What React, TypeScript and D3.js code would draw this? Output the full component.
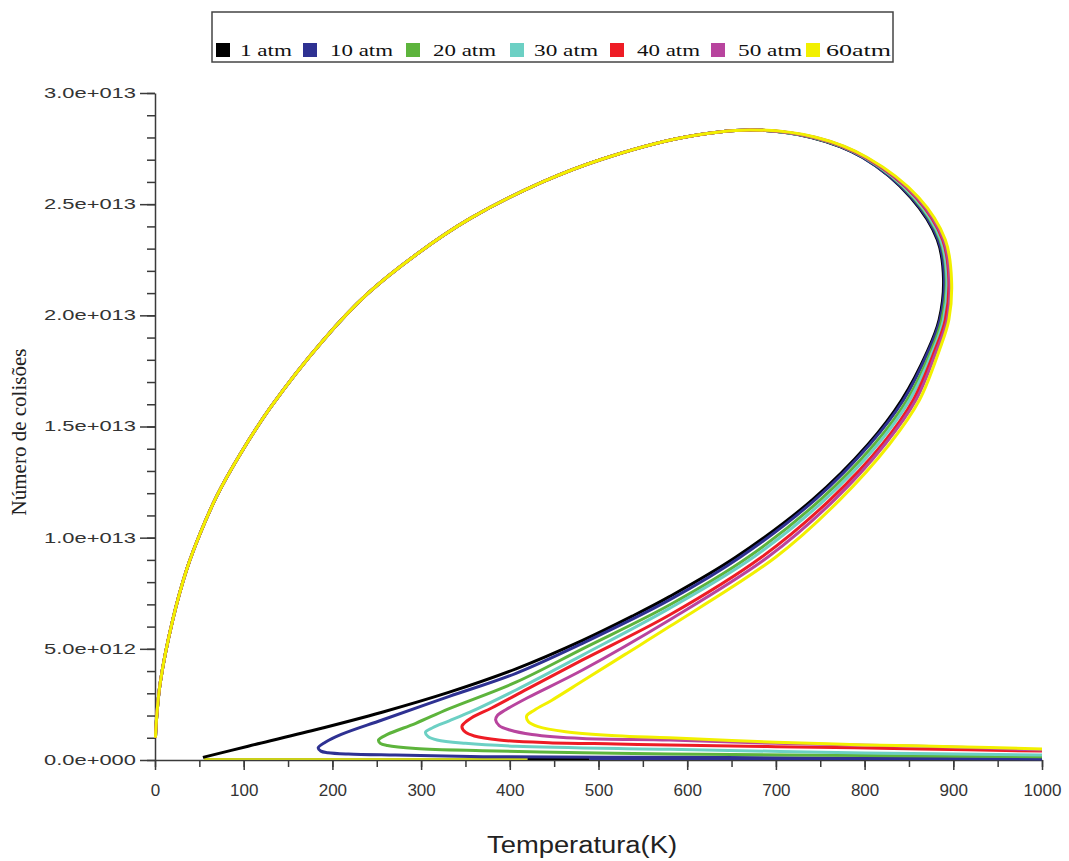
import React, { useEffect, useRef } from "react";
import * as d3 from "d3";

// N values are stored in units of 1e13 collisions
const UNIT = 1e13;

const pressures = ["1 atm", "10 atm", "20 atm", "30 atm", "40 atm", "50 atm", "60atm"];
const colors = ["#000000", "#2e3192", "#5db43c", "#6cd0c4", "#ee1c25", "#b8449e", "#f2f000"];

// rising branch, identical for all pressures (T in K)
const upperT = [0.5, 2, 6, 20, 36, 51, 70, 96, 130, 189, 239, 295, 355, 437, 502, 595, 671];
const upperN = [0.1, 0.2, 0.35, 0.63, 0.86, 1.02, 1.19, 1.375, 1.585, 1.885, 2.095, 2.275, 2.435, 2.6, 2.7, 2.8, 2.834];

// falling branch after the maximum, read at these N levels
const fallN = [2.8, 2.71, 2.53, 2.34, 2.16, 1.98, 1.84, 1.62, 1.42, 1.17, 0.913];
const fallT = [
  [740, 798, 852, 882, 889, 884, 871, 842, 804, 741, 655],
  [741, 798, 853, 883, 890, 885, 872, 844, 806, 744, 660],
  [742, 800, 855, 885, 892, 887, 875, 848, 811, 750, 669],
  [743, 800, 856, 886, 893, 889, 877, 851, 815, 755, 675],
  [744, 801, 858, 888, 895, 891, 879, 855, 820, 761, 684],
  [745, 802, 859, 889, 896, 893, 881, 858, 823, 766, 691],
  [746, 803, 861, 891, 898, 895, 884, 862, 828, 772, 700],
];

// low branch down to the turning point, then the tail out to 1000 K
const lowT = [
  [580, 538, 482, 407, 331, 256, 181, 105, 54],
  [580, 482, 407, 331, 256, 210, 192, 184, 187, 195, 218, 271, 370, 600, 800, 1000],
  [580, 482, 407, 331, 294, 262, 252, 254, 262, 294, 369, 482, 580, 800, 1000],
  [580, 482, 407, 355, 331, 313, 305, 308, 318, 350, 407, 580, 800, 1000],
  [580, 482, 420, 380, 357, 348, 346, 350, 360, 388, 444, 520, 580, 700, 862, 1000],
  [580, 482, 420, 395, 386, 384, 388, 400, 425, 482, 580, 700, 862, 1000],
  [580, 530, 482, 447, 428, 419, 421, 432, 463, 520, 580, 700, 800, 900, 1000],
];
const lowN = [
  [0.735, 0.647, 0.538, 0.41, 0.304, 0.215, 0.136, 0.062, 0.012],
  [0.72, 0.525, 0.39, 0.285, 0.18, 0.115, 0.08, 0.055, 0.04, 0.033, 0.027, 0.022, 0.015, 0.012, 0.008, 0.005],
  [0.697, 0.5, 0.35, 0.23, 0.165, 0.115, 0.09, 0.075, 0.065, 0.052, 0.042, 0.033, 0.027, 0.02, 0.015],
  [0.682, 0.472, 0.315, 0.215, 0.175, 0.145, 0.125, 0.105, 0.09, 0.075, 0.062, 0.048, 0.032, 0.022],
  [0.652, 0.45, 0.32, 0.235, 0.19, 0.163, 0.15, 0.125, 0.108, 0.09, 0.078, 0.072, 0.067, 0.06, 0.05, 0.04],
  [0.63, 0.405, 0.28, 0.225, 0.2, 0.18, 0.155, 0.135, 0.115, 0.097, 0.09, 0.075, 0.062, 0.045],
  [0.6, 0.475, 0.355, 0.268, 0.225, 0.198, 0.172, 0.15, 0.127, 0.109, 0.1, 0.08, 0.068, 0.06, 0.05],
];

// pieces lying on N = 0 (series index, from T, to T)
const zeroSeries = [6, 0, 1];
const zeroFrom = [55, 420, 490];
const zeroTo = [420, 490, 1000];

const xTicks = [0, 100, 200, 300, 400, 500, 600, 700, 800, 900, 1000];
const yTicks = [0, 0.5, 1, 1.5, 2, 2.5, 3];
const yTickLabels = ["0.0e+000", "5.0e+012", "1.0e+013", "1.5e+013", "2.0e+013", "2.5e+013", "3.0e+013"];

// legend layout (px)
const legendSquareX = [216, 303, 406, 510, 610, 711, 806];
const legendTextX = [240, 330, 433, 534, 637, 738, 826];
const legendTextW = [52, 63, 63, 64, 63, 64, 65];

export default function App() {
  const ref = useRef<SVGSVGElement>(null);

  useEffect(() => {
    const svg = d3.select(ref.current);
    svg.selectAll("*").remove();

    const x = d3.scaleLinear().domain([0, 1000]).range([155, 1042]);
    const y = d3.scaleLinear().domain([0, 3 * UNIT]).range([760, 93]);

    svg.append("rect").attr("width", 1069).attr("height", 861).attr("fill", "#fff");

    // axes
    const axisColor = "#3a3a3a";
    const yMinor = svg
      .append("g")
      .attr("transform", "translate(155,0)")
      .call(
        d3.axisLeft(y).tickValues(d3.range(0, 31).map((i) => (i / 10) * UNIT)).tickSize(8).tickSizeOuter(0).tickFormat(() => "")
      );
    yMinor.select(".domain").remove();
    const yAxis = svg
      .append("g")
      .attr("transform", "translate(155,0)")
      .call(
        d3
          .axisLeft(y)
          .tickValues(yTicks.map((v) => v * UNIT))
          .tickSize(15)
          .tickSizeOuter(0)
          .tickPadding(4)
          .tickFormat((_, i) => yTickLabels[i])
      );
    yAxis
      .selectAll("text")
      .attr("font-family", "Liberation Sans, Arial, sans-serif")
      .attr("font-size", 14)
      .attr("fill", "#333")
      .attr("textLength", 92)
      .attr("lengthAdjust", "spacingAndGlyphs");

    const xMinor = svg
      .append("g")
      .attr("transform", "translate(0,760)")
      .call(d3.axisBottom(x).tickValues(d3.range(0, 1001, 50)).tickSize(7).tickSizeOuter(0).tickFormat(() => ""));
    xMinor.select(".domain").remove();
    const xAxis = svg
      .append("g")
      .attr("transform", "translate(0,760)")
      .call(
        d3.axisBottom(x).tickValues(xTicks).tickSize(10).tickSizeOuter(0).tickPadding(14).tickFormat(d3.format("d"))
      );
    xAxis
      .selectAll("text")
      .attr("font-family", "Liberation Sans, Arial, sans-serif")
      .attr("font-size", 17)
      .attr("fill", "#333");

    svg.selectAll(".domain, .tick line").attr("stroke", axisColor).attr("stroke-width", 1.5);

    // curves
    const line = d3
      .line<[number, number]>()
      .x((d) => x(d[0]))
      .y((d) => y(d[1] * UNIT))
      .curve(d3.curveCatmullRom.alpha(0.5));

    zeroSeries.forEach((s, i) => {
      svg
        .append("line")
        .attr("x1", x(zeroFrom[i]))
        .attr("x2", x(zeroTo[i]))
        .attr("y1", y(0) - 1)
        .attr("y2", y(0) - 1)
        .attr("stroke", s === 6 ? "#c9cf1a" : colors[s])
        .attr("stroke-width", 2);
    });

    pressures.forEach((_, s) => {
      const pts: [number, number][] = [];
      upperT.forEach((t, i) => pts.push([t, upperN[i]]));
      fallT[s].forEach((t, i) => pts.push([t, fallN[i]]));
      lowT[s].forEach((t, i) => pts.push([t, lowN[s][i]]));
      svg
        .append("path")
        .attr("d", line(pts))
        .attr("fill", "none")
        .attr("stroke", colors[s])
        .attr("stroke-width", 3)
        .attr("stroke-linejoin", "round");
    });

    // axis titles
    svg
      .append("text")
      .attr("x", 582)
      .attr("y", 853)
      .attr("text-anchor", "middle")
      .attr("font-family", "Liberation Sans, Arial, sans-serif")
      .attr("font-size", 23)
      .attr("fill", "#222")
      .attr("textLength", 190)
      .attr("lengthAdjust", "spacingAndGlyphs")
      .text("Temperatura(K)");

    svg
      .append("text")
      .attr("transform", "translate(26,432) rotate(-90)")
      .attr("text-anchor", "middle")
      .attr("font-family", "Liberation Serif, Times New Roman, serif")
      .attr("font-size", 21)
      .attr("fill", "#222")
      .text("Número de colisões");

    // legend
    svg
      .append("rect")
      .attr("x", 212)
      .attr("y", 12)
      .attr("width", 681)
      .attr("height", 50)
      .attr("fill", "#fff")
      .attr("stroke", "#444")
      .attr("stroke-width", 1.5);

    pressures.forEach((p, i) => {
      svg
        .append("rect")
        .attr("x", legendSquareX[i])
        .attr("y", 43)
        .attr("width", 14)
        .attr("height", 14)
        .attr("fill", colors[i]);
      svg
        .append("text")
        .attr("x", legendTextX[i])
        .attr("y", 56)
        .attr("font-family", "Liberation Serif, Times New Roman, serif")
        .attr("font-size", 16)
        .attr("fill", "#111")
        .attr("textLength", legendTextW[i])
        .attr("lengthAdjust", "spacingAndGlyphs")
        .text(p);
    });
  }, []);

  return (
    <div style={{ position: "absolute", left: 0, top: 0 }}>
      <svg ref={ref} width={1069} height={861} />
    </div>
  );
}
